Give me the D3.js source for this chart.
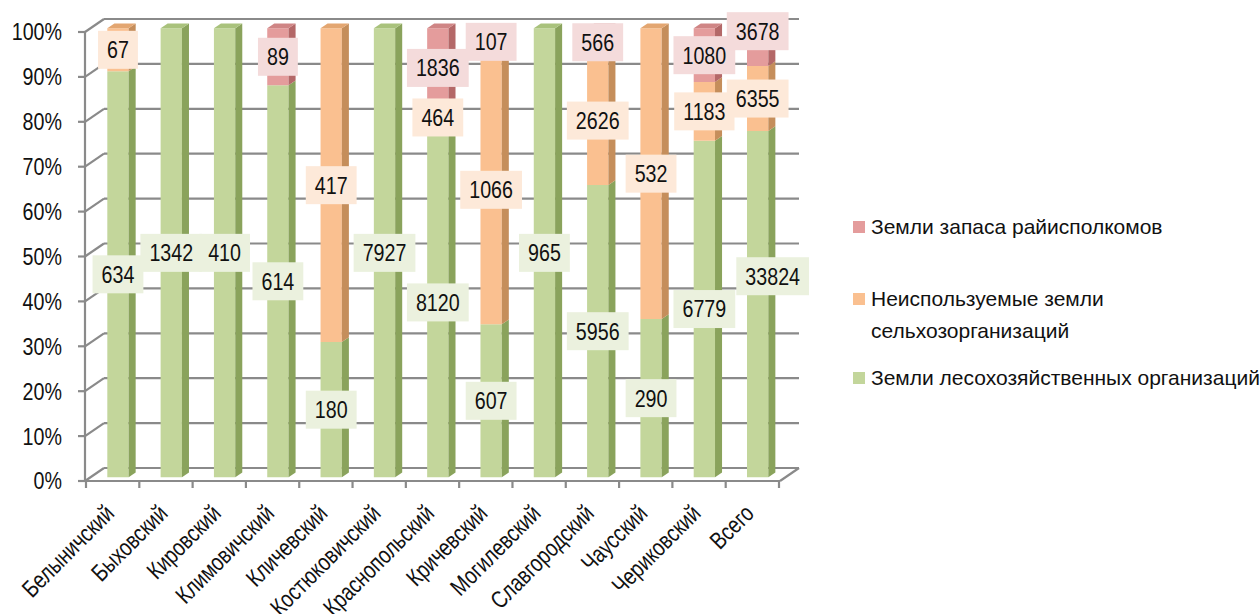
<!DOCTYPE html>
<html>
<head>
<meta charset="utf-8">
<script src="https://cdn.jsdelivr.net/npm/d3@7"></script>
<style>
  html, body { margin: 0; padding: 0; background: #ffffff; }
  svg { display: block; }
  text { font-family: "Liberation Sans", Arial, sans-serif; }
</style>
</head>
<body>
<svg id="chart" width="1260" height="614"></svg>
<script>
// ---------- data ----------
const categories = ["Белыничский", "Быховский", "Кировский", "Климовичский", "Кличевский",
  "Костюковичский", "Краснопольский", "Кричевский", "Могилевский", "Славгородский",
  "Чаусский", "Чериковский", "Всего"];
const forestLand  = [634, 1342, 410, 614, 180, 7927, 8120, 607, 965, 5956, 290, 6779, 33824];
const unusedAgri  = [67, 0, 0, 0, 417, 0, 464, 1066, 0, 2626, 532, 1183, 6355];
const reserveLand = [0, 0, 0, 89, 0, 0, 1836, 107, 0, 566, 0, 1080, 3678];
const seriesNames = ["Земли лесохозяйственных организаций", "Неиспользуемые земли сельхозорганизаций", "Земли запаса райисполкомов"];
const yTicks = [0, 0.1, 0.2, 0.3, 0.4, 0.5, 0.6, 0.7, 0.8, 0.9, 1.0];

// ---------- styles ----------
const colors = [
  { front: "#c3d69b", side: "#8aa35c", top: "#a9c27c", box: "#ebf1de" },
  { front: "#fac090", side: "#c58e5b", top: "#e3a671", box: "#fde9d9" },
  { front: "#e49c9c", side: "#b46868", top: "#cf8585", box: "#f4dbdb" }
];
const gridColor = "#8a8a8a";
const NARROW = 0.82;   // horizontal squeeze to mimic a narrow typeface

const svg = d3.select("#chart");

// ---------- scales ----------
const x = d3.scaleBand().domain(categories).range([86, 779]).padding(0);
const y = d3.scaleLinear().domain([0, 1]).range([481, 32]);
const DX = 19, DY = -13;           // depth vector
const F0 = 0.28, F1 = 0.65;        // bar front/back depth fraction
const barW = x.bandwidth() * 0.40;
const P = (px, v, f) => [px + f * DX, y(v) + f * DY];

// ---------- data table ----------
const table = categories.map((c, i) => ({ cat: c, s0: forestLand[i], s1: unusedAgri[i], s2: reserveLand[i] }));
const stack = d3.stack().keys(["s0", "s1", "s2"]).offset(d3.stackOffsetExpand);
const stacked = stack(table);

function narrowText(parent, px, py, str, size, anchor) {
  const gg = parent.append("g").attr("transform", `translate(${px},${py}) scale(${NARROW},1)`);
  const t = gg.append("text").attr("x", 0).attr("y", 0).attr("dy", "0.35em")
    .attr("text-anchor", anchor).attr("font-size", size).attr("fill", "#111").text(str);
  return { g: gg, t };
}

// ---------- walls & grid ----------
const g = svg.append("g");
const line = (a, b) => g.append("line").attr("x1", a[0]).attr("y1", a[1]).attr("x2", b[0]).attr("y2", b[1])
  .attr("stroke", gridColor).attr("stroke-width", 2.2);
yTicks.forEach(t => {
  const a = P(85, t, 0), b = P(85, t, 1), c = P(780, t, 1);
  line(b, c);
  line(a, b);
  line([a[0] - 7, a[1]], a);
});
line(P(780, 0, 0), P(780, 0, 1));
line([85, y(0)], [85, y(1)]);
line([85, y(0)], [780, y(0)]);
const bounds = categories.map(c => x(c)).concat([x.range()[1]]);
bounds.forEach(bx => line([bx, y(0)], [bx, y(0) + 7]));

// y tick labels
const yl = svg.append("g");
yTicks.forEach(t => narrowText(yl, 62, y(t), Math.round(t * 100) + "%", 24, "end"));

// ---------- bars ----------
const poly = pts => "M" + pts.map(p => p.join(",")).join("L") + "Z";
const bars = svg.append("g");
categories.forEach((c, i) => {
  const cx = x(c) + x.bandwidth() / 2;
  const xl = cx - barW / 2, xr = cx + barW / 2;
  let topIdx = 0;
  stacked.forEach((s, k) => {
    const [v0, v1] = s[i];
    if (v1 - v0 <= 0) return;
    topIdx = k;
    const f = [P(xl, v0, F0), P(xr, v0, F0), P(xr, v1, F0), P(xl, v1, F0)];
    bars.append("path").attr("d", poly(f)).attr("fill", colors[k].front);
    const sd = [P(xr, v0, F0), P(xr, v0, F1), P(xr, v1, F1), P(xr, v1, F0)];
    bars.append("path").attr("d", poly(sd)).attr("fill", colors[k].side);
  });
  const tp = [P(xl, 1, F0), P(xr, 1, F0), P(xr, 1, F1), P(xl, 1, F1)];
  bars.append("path").attr("d", poly(tp)).attr("fill", colors[topIdx].top);
});

// ---------- data labels ----------
const nudge = { "Всего": [[15, -28], [0, 0], [0, -16]] };
const labels = svg.append("g");
categories.forEach((c, i) => {
  const cx = x(c) + x.bandwidth() / 2;
  stacked.forEach((s, k) => {
    const [v0, v1] = s[i];
    const raw = table[i]["s" + k];
    if (!raw) return;
    let [lx, ly] = P(cx, (v0 + v1) / 2, F0);
    if (nudge[c]) { lx += nudge[c][k][0]; ly += nudge[c][k][1]; }
    const holder = labels.append("g");
    const { t } = narrowText(holder, lx, ly, raw, 24, "middle");
    const w = t.node().getComputedTextLength() * NARROW;
    holder.insert("rect", ":first-child")
      .attr("x", lx - w / 2 - 9).attr("y", ly - 19).attr("width", w + 18).attr("height", 38)
      .attr("fill", colors[k].box);
  });
});

// ---------- category labels ----------
svg.append("g").selectAll("text").data(categories).join("text")
  .attr("transform", d => `translate(${x(d) + x.bandwidth() / 2 + 3},${y(0) + 34}) rotate(-45) scale(0.8,1)`)
  .attr("text-anchor", "end").attr("font-size", 24).attr("fill", "#111")
  .text(d => d);

// ---------- legend ----------
const legend = svg.append("g");
const legendItems = [
  { k: 2, lines: ["Земли запаса райисполкомов"], y: 227 },
  { k: 1, lines: ["Неиспользуемые земли", "сельхозорганизаций"], y: 299 },
  { k: 0, lines: ["Земли лесохозяйственных организаций"], y: 378 }
];
legendItems.forEach(it => {
  legend.append("rect").attr("x", 853).attr("y", it.y - 6).attr("width", 12).attr("height", 12)
    .attr("fill", colors[it.k].front);
  it.lines.forEach((ln, j) => {
    legend.append("text").attr("x", 871).attr("y", it.y + j * 32).attr("dy", "0.35em")
      .attr("font-size", 21).attr("fill", "#111").text(ln);
  });
});
</script>
</body>
</html>
